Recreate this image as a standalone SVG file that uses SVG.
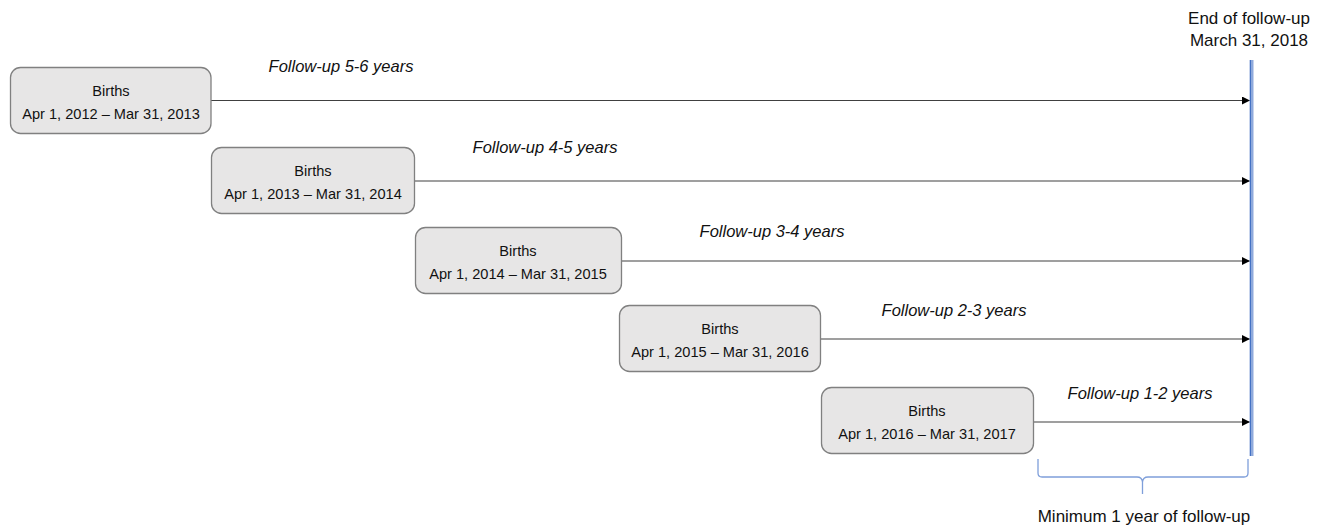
<svg xmlns="http://www.w3.org/2000/svg" width="1325" height="525" viewBox="0 0 1325 525">
<style>
.box{fill:#E7E6E6;stroke:#808080;stroke-width:1.3}
.bt{font-family:"Liberation Sans",Arial,sans-serif;font-size:14.6px;fill:#111;text-anchor:middle}
.lbl{font-family:"Liberation Sans",Arial,sans-serif;font-size:16.5px;font-style:italic;fill:#111;text-anchor:middle}
.ttl{font-family:"Liberation Sans",Arial,sans-serif;font-size:17px;fill:#111;text-anchor:middle}
.arr{stroke:#404040;stroke-width:1.2;fill:none;marker-end:url(#ah)}
</style>
<defs>
<marker id="ah" viewBox="0 0 10 10" refX="10" refY="5" markerWidth="8" markerHeight="8" markerUnits="userSpaceOnUse" orient="auto">
<path d="M0,0 L10,5 L0,10 z" fill="#000"/>
</marker>
</defs>
<rect width="1325" height="525" fill="#fff"/>
<g id="connectors">
<line class="arr" x1="211" y1="100.5" x2="1250" y2="100.5"/>
<line class="arr" x1="415" y1="181" x2="1250" y2="181"/>
<line class="arr" x1="622" y1="261" x2="1250" y2="261"/>
<line class="arr" x1="821" y1="339" x2="1250" y2="339"/>
<line class="arr" x1="1034" y1="422" x2="1250" y2="422"/>
</g>
<g id="endline">
<rect x="1249.5" y="60" width="4" height="396" fill="#8FAADC"/>
<line x1="1250.5" y1="60" x2="1250.5" y2="456" stroke="#4472C4" stroke-width="1"/>
<text class="ttl" x="1249" y="24">End of follow-up</text>
<text class="ttl" x="1249" y="46">March 31, 2018</text>
</g>
<g id="n1">
<rect class="box" x="10.5" y="67.5" width="200.5" height="66" rx="10"/>
<text class="bt" x="111" y="96">Births</text>
<text class="bt" x="111" y="119">Apr 1, 2012 – Mar 31, 2013</text>
</g>
<g id="n2">
<rect class="box" x="211.5" y="147.5" width="203" height="66" rx="10"/>
<text class="bt" x="313" y="176">Births</text>
<text class="bt" x="313" y="199">Apr 1, 2013 – Mar 31, 2014</text>
</g>
<g id="n3">
<rect class="box" x="415.5" y="227.5" width="206" height="66" rx="10"/>
<text class="bt" x="518" y="256">Births</text>
<text class="bt" x="518" y="279">Apr 1, 2014 – Mar 31, 2015</text>
</g>
<g id="n4">
<rect class="box" x="619.5" y="305.5" width="201" height="66" rx="10"/>
<text class="bt" x="720" y="334">Births</text>
<text class="bt" x="720" y="357">Apr 1, 2015 – Mar 31, 2016</text>
</g>
<g id="n5">
<rect class="box" x="821.5" y="387.5" width="212" height="66" rx="10"/>
<text class="bt" x="927" y="416">Births</text>
<text class="bt" x="927" y="439">Apr 1, 2016 – Mar 31, 2017</text>
</g>
<g id="labels">
<text class="lbl" x="341" y="72">Follow-up 5-6 years</text>
<text class="lbl" x="545" y="153">Follow-up 4-5 years</text>
<text class="lbl" x="772" y="237">Follow-up 3-4 years</text>
<text class="lbl" x="954" y="316">Follow-up 2-3 years</text>
<text class="lbl" x="1140" y="399">Follow-up 1-2 years</text>
</g>
<g id="brace">
<path d="M1038,459 V473 Q1038,477 1042,477 H1137 Q1142,477 1142.5,482 V494 M1142.5,482 Q1143,477 1148,477 H1244 Q1248,477 1248,473 V459" fill="none" stroke="#7F9FDA" stroke-width="1.3"/>
<text class="ttl" x="1144" y="522">Minimum 1 year of follow-up</text>
</g>
</svg>
